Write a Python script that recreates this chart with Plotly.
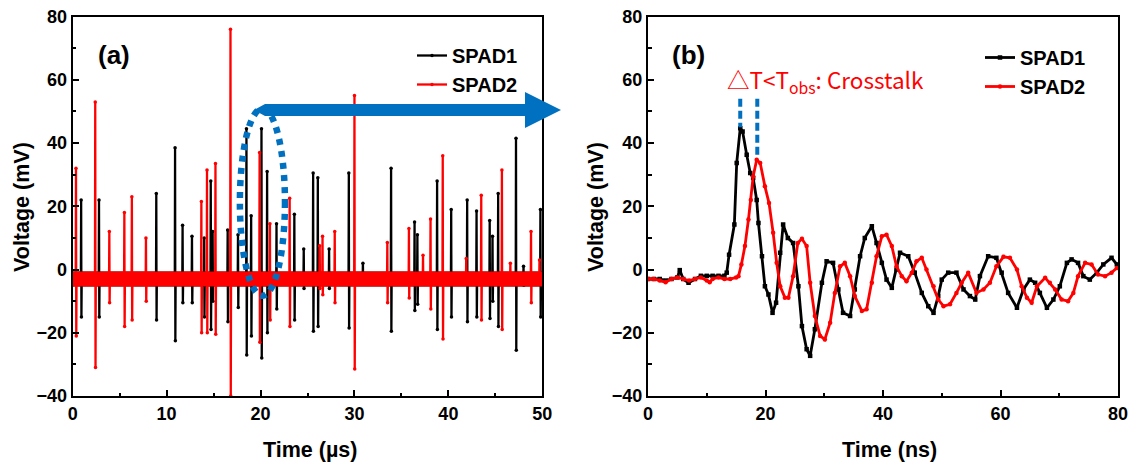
import plotly.graph_objects as go

# ---------------- Panel (a) data: spikes (time in µs, max / min in mV) ----------------
spad1_a_t = [0.9, 2.8, 8.9, 10.9, 11.7, 12.7, 14.0, 14.7, 14.9, 16.5, 17.6, 18.5, 19.0, 20.1, 20.7,
             21.7, 23.6, 24.6, 25.6, 26.1, 27.3, 29.4, 30.9, 33.9, 36.4, 36.7, 38.8, 40.3, 42.0,
             43.0, 44.4, 44.7, 45.3, 47.2, 48.0, 49.8]
spad1_a_max = [22, 22, 24, 38.5, 14, 10.5, 10, 28, 12, 12.5, 11, 44.5, 17, 44.5, 31,
               14.5, 17.5, 6.5, 30.5, 29, 6.5, 30.5, 2, 32, 15, 11, 28, 19, 22,
               18.5, 15.5, 10.5, 24, 41.5, 1, 19]
spad1_a_min = [-15, -15, -16, -22.5, -10.5, -10.5, -15, -19, -10, -16.5, -12, -27, -21, -28, -20,
               -12.5, -16, -6, -19.5, -18, -6, -18.5, -4, -19.5, -13, -11, -19, -15, -16.5,
               -15, -15.5, -10, -18, -25.5, -5, -15]

spad2_a_t = [0.35, 2.4, 3.9, 5.5, 6.3, 7.8, 13.7, 14.3, 15.2, 16.8, 19.9, 21.0, 23.1, 26.3, 26.6,
             27.9, 30.0, 33.5, 35.8, 37.3, 38.1, 39.4, 41.9, 43.5, 45.7, 46.6, 48.8, 49.7]
spad2_a_max = [32, 53, 12, 18, 23, 10, 21.5, 31.5, 33.5, 76, 37, 14.5, 22.5, 7.5, 10.5,
               12, 55, 8.5, 13, 4.5, 16, 36, 3.5, 23.5, 31.5, 2, 12, 3]
spad2_a_min = [-21, -31, -10.5, -18, -16, -10, -20, -20, -20.5, -40, -23, -16, -18, -6, -8,
               -10.5, -31.5, -10.5, -9, -4, -12.5, -22, -4, -16, -19, -4, -10.5, -4]

baseline_a = [-3, -3]          # baseline level of SPAD1, SPAD2 (mV)
time_a_range = [0, 50]

# ---------------- Panel (b) data: waveforms (time in ns, voltage in mV) ----------------
spad1_b_t = [0, 1, 2, 3, 4, 5, 5.4, 6, 6.9, 8, 9, 10, 11, 12, 13, 13.4, 13.8, 14.7, 15.1, 15.7,
             16.1, 16.8, 17.4, 17.9, 18.5, 18.8, 19.4, 19.9, 20.5, 21.2, 21.8, 22.5, 23.0, 23.8,
             24.7, 25.6, 26.2, 27.0, 27.6, 28.4, 29.6, 30.4, 31.5, 32.4, 33.2, 34.4, 35.2, 36.1,
             36.9, 38.1, 38.9, 39.8, 40.6, 41.5, 42.3, 42.9, 44.3, 45.4, 46.6, 47.7, 48.6, 49.4,
             50.0, 51.1, 52.5, 53.7, 54.8, 55.7, 56.5, 57.9, 59.3, 60.2, 61.3, 62.8, 63.9, 65.0,
             65.9, 66.7, 67.9, 69.0, 70.1, 71.3, 72.1, 73.2, 74.1, 75.2, 76.4, 77.5, 78.9, 79.8]
spad1_b_v = [-3, -3, -3, -3.5, -3, -2.5, -0.2, -3, -4.2, -3, -2, -2, -2, -2, -2, -1, 4.7, 14.2, 33.7, 44.7,
             43.6, 36.3, 30.5, 28.9, 22, 14.7, 4.2, -5.3, -7.9, -13.7, -10.5, 5.3, 14.2, 10,
             8.4, -5.3, -17.9, -25.2, -27.3, -18.9, -4.2, 2.6, 2.1, -6.3, -13.7, -14.7, -6.3, 4.2,
             10, 13.7, 8.4, 2.1, -3.2, -5.8, 0, 5.3, 4.2, -1, -7.4, -11.6, -13.7, -8.4,
             -3.2, -1, -1, -6.3, -8.4, -9.5, -2.1, 4.2, 3.7, -1, -7.4, -12.1, -6.3, -3.2,
             -4.2, -7.4, -12.1, -9.5, -5.3, 2.1, 3.2, 2.1, -2.1, -3.2, -1, 1.6, 3.7, 1.6]

spad2_b_t = [0, 1, 2, 3, 4, 5, 6, 7, 8, 9, 10, 10.5, 11, 12, 13, 14, 15, 15.4, 15.9, 16.5,
             17.1, 17.5, 17.9, 18.5, 19.1, 19.9, 20.6, 21.3, 21.9, 22.5, 23.3, 23.9, 24.7, 25.5,
             26.2, 27.0, 27.6, 28.4, 29.3, 30.1, 31.0, 31.8, 32.7, 33.5, 34.4, 35.2, 36.4, 37.2,
             38.1, 38.9, 39.8, 40.6, 41.5, 42.3, 43.2, 44.0, 44.9, 45.7, 46.6, 47.4, 48.6, 49.4,
             50.3, 51.4, 52.5, 53.4, 54.5, 55.9, 57.1, 58.2, 59.3, 60.5, 61.6, 62.8, 63.6, 64.5,
             65.3, 66.2, 67.6, 68.4, 69.3, 70.4, 71.5, 72.4, 73.2, 74.4, 75.5, 76.6, 77.8, 78.9, 79.8]
spad2_b_v = [-3, -3, -3.5, -4, -3, -2.5, -3, -3.5, -3, -2.5, -3.5, -4, -3, -2.5, -3, -3, -2.5, -2.1, 1.6, 7.4,
             15.8, 22, 29.4, 34.7, 33.7, 26.3, 21, 11.6, 2.1, -5.3, -8.9, -8.9, -2.1, 8.4,
             9.7, 7.4, -4.2, -14.7, -21, -22.1, -16.8, -7.4, 1, 2.1, -2.1, -8.4, -13.1, -12.6,
             -4.2, 4.2, 10.5, 11, 7.4, 1, -2.1, -3.7, -1, 2.6, 3.7, 0, -5.3, -9.5,
             -11.6, -11, -7.4, -4.2, -1, -7.4, -6.3, -4.2, 1, 4, 3.7, 0, -5.3, -8.9,
             -10.5, -5.3, -2.6, -4.2, -6.3, -9.5, -10, -7.4, -2.1, 2.1, 1.6, -1.6, -2.1, -1, 0.5]

# Peak markers in panel (b): time (ns), top and bottom (mV)
peak_mark_t = [15.7, 18.6]
peak_mark_top = [54, 54]
peak_mark_bottom = [45, 35.5]

# Highlight ellipse in panel (a) (µs, mV)
ellipse_x = [17.8, 22.6]
ellipse_y = [-8.3, 50.9]

BLACK = "#000000"
RED = "#FF0000"
BLUE = "#0070C0"
FONT = "Arial, 'Liberation Sans', sans-serif"

W, H = 1132, 466


def spike_series(times, highs, lows, base, t_range):
    xs, ys = [t_range[0]], [base]
    for t, hi, lo in sorted(zip(times, highs, lows)):
        xs += [t - 0.03, t, t + 0.03, t + 0.06]
        ys += [base, hi, lo, base]
    xs.append(t_range[1])
    ys.append(base)
    return xs, ys


fig = go.Figure()

# ---- panel (a) ----
x1, y1 = spike_series(spad1_a_t, spad1_a_max, spad1_a_min, baseline_a[0], time_a_range)
x2, y2 = spike_series(spad2_a_t, spad2_a_max, spad2_a_min, baseline_a[1], time_a_range)

fig.add_trace(go.Scatter(x=time_a_range, y=[baseline_a[0]] * 2, mode="lines",
                         line=dict(color=BLACK, width=15), showlegend=False, hoverinfo="skip",
                         xaxis="x", yaxis="y"))
fig.add_trace(go.Scatter(x=x1, y=y1, mode="lines+markers", name="SPAD1",
                         line=dict(color=BLACK, width=2.3), marker=dict(size=3.5, color=BLACK),
                         xaxis="x", yaxis="y", legend="legend"))
fig.add_trace(go.Scatter(x=time_a_range, y=[baseline_a[1]] * 2, mode="lines",
                         line=dict(color=RED, width=15), showlegend=False, hoverinfo="skip",
                         xaxis="x", yaxis="y"))
fig.add_trace(go.Scatter(x=x2, y=y2, mode="lines+markers", name="SPAD2",
                         line=dict(color=RED, width=2.3), marker=dict(size=3.5, color=RED),
                         xaxis="x", yaxis="y", legend="legend"))

# ---- panel (b) ----
fig.add_trace(go.Scatter(x=spad1_b_t, y=spad1_b_v, mode="lines+markers", name="SPAD1",
                         line=dict(color=BLACK, width=2.8),
                         marker=dict(size=4.5, color=BLACK, symbol="square"),
                         xaxis="x2", yaxis="y2", legend="legend2"))
fig.add_trace(go.Scatter(x=spad2_b_t, y=spad2_b_v, mode="lines+markers", name="SPAD2",
                         line=dict(color=RED, width=2.8),
                         marker=dict(size=4.5, color=RED, symbol="circle"),
                         xaxis="x2", yaxis="y2", legend="legend2"))

# ---- layout ----
ydom = [1 - 396 / H, 1 - 16.5 / H]
xdom_a = [72.7 / W, 542.3 / W]
xdom_b = [648 / W, 1118 / W]

tickfont = dict(family=FONT, size=18, color=BLACK, weight="bold")


def axis(dom, rng, dtick, minor_dtick, anchor):
    return dict(domain=dom, range=rng, dtick=dtick, tick0=0, ticks="inside", ticklen=6,
                tickwidth=1.8, tickcolor=BLACK, showline=True, linecolor=BLACK, linewidth=2,
                mirror=True, showgrid=False, zeroline=False, tickfont=tickfont, anchor=anchor,
                automargin=False,
                minor=dict(dtick=minor_dtick, ticks="inside", ticklen=3.5, tickwidth=1.5,
                           tickcolor=BLACK, showgrid=False))


legend_font = dict(family=FONT, size=20, color=BLACK, weight="bold")

fig.update_layout(
    width=W, height=H, autosize=False,
    margin=dict(l=0, r=0, t=0, b=0, pad=0),
    paper_bgcolor="white", plot_bgcolor="white",
    xaxis=axis(xdom_a, [0, 50], 10, 5, "y"),
    yaxis=axis(ydom, [-40, 80], 20, 10, "x"),
    xaxis2=axis(xdom_b, [0, 80], 20, 10, "y2"),
    yaxis2=axis(ydom, [-40, 80], 20, 10, "x2"),
    legend=dict(x=412 / W, y=1 - 36 / H, xanchor="left", yanchor="top",
                bgcolor="rgba(0,0,0,0)", font=legend_font, tracegroupgap=0),
    legend2=dict(x=980 / W, y=1 - 38 / H, xanchor="left", yanchor="top",
                 bgcolor="rgba(0,0,0,0)", font=legend_font, tracegroupgap=0),
    showlegend=True,
)

title_font = dict(family=FONT, size=21.5, color=BLACK, weight="bold")
annos = [
    dict(text="Voltage (mV)", x=22 / W, y=1 - 207 / H, xref="paper", yref="paper",
         textangle=-90, showarrow=False, font=title_font, xanchor="center", yanchor="middle"),
    dict(text="Voltage (mV)", x=596 / W, y=1 - 207 / H, xref="paper", yref="paper",
         textangle=-90, showarrow=False, font=title_font, xanchor="center", yanchor="middle"),
    dict(text="Time (µs)", x=310 / W, y=1 - 450 / H, xref="paper", yref="paper",
         showarrow=False, font=title_font, xanchor="center", yanchor="middle"),
    dict(text="Time (ns)", x=889 / W, y=1 - 450 / H, xref="paper", yref="paper",
         showarrow=False, font=title_font, xanchor="center", yanchor="middle"),
    dict(text="(a)", x=114 / W, y=1 - 55 / H, xref="paper", yref="paper", showarrow=False,
         font=dict(family=FONT, size=26, color=BLACK, weight="bold"),
         xanchor="center", yanchor="middle"),
    dict(text="(b)", x=688 / W, y=1 - 55 / H, xref="paper", yref="paper", showarrow=False,
         font=dict(family=FONT, size=26, color=BLACK, weight="bold"),
         xanchor="center", yanchor="middle"),
    dict(text="△T&lt;T<sub>obs</sub>: Crosstalk", x=725 / W, y=1 - 81 / H,
         xref="paper", yref="paper", showarrow=False,
         font=dict(family="'Noto Sans CJK SC', 'Noto Sans', sans-serif", size=22.5, color=RED),
         xanchor="left", yanchor="middle"),
]
fig.update_layout(annotations=annos)

shapes = []
# dashed peak markers
for t, top, bot in zip(peak_mark_t, peak_mark_top, peak_mark_bottom):
    shapes.append(dict(type="line", xref="x2", yref="y2", x0=t, x1=t, y0=top, y1=bot,
                       line=dict(color=BLUE, width=4, dash="8px,4px")))
# dotted ellipse
shapes.append(dict(type="circle", xref="x", yref="y", x0=ellipse_x[0], x1=ellipse_x[1],
                   y0=ellipse_y[0], y1=ellipse_y[1],
                   line=dict(color=BLUE, width=6.5, dash="6px,6px")))


# big arrow (paper coordinates)
def P(x, y):
    return f"{x / W:.5f},{1 - y / H:.5f}"


arrow_path = ("M " + P(254, 110) + " L " + P(265, 104) + " L " + P(525, 104) + " L " +
              P(525, 92) + " L " + P(561, 110) + " L " + P(525, 128) + " L " +
              P(525, 116) + " L " + P(265, 116) + " Z")
shapes.append(dict(type="path", xref="paper", yref="paper", path=arrow_path,
                   fillcolor=BLUE, line=dict(width=0)))
fig.update_layout(shapes=shapes)

fig.write_html("out.html")
